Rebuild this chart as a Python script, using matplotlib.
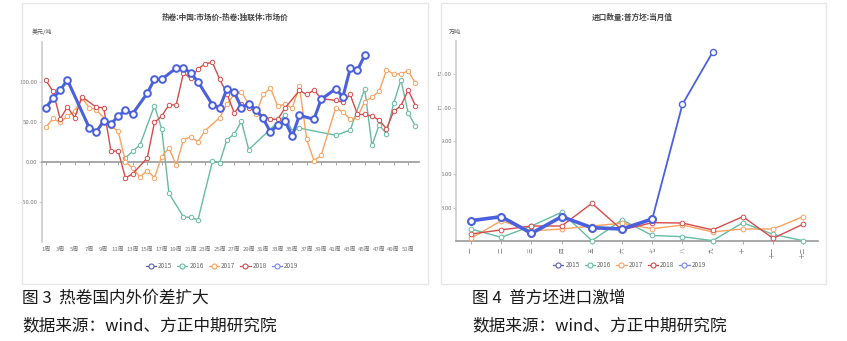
import numpy as np
import matplotlib.pyplot as plt
from matplotlib.lines import Line2D
from matplotlib.patches import Rectangle

plt.rcParams['font.family'] = ['Noto Sans CJK SC', 'DejaVu Sans']

N = None
# ---------------- Left chart data (weekly spread, USD/t) ----------------
weeks = list(range(1, 53))
week_labels = [f"{w}周" for w in range(1, 52, 2)]
spread_2016 = [N, N, N, N, N, N, N, N, N, N, N, 5, 13, 21, N, 70, 41, -39.5, N, -69,
               -69.5, -73, N, 0.5, -1, 27.5, 34.5, 50.5, 15, N, N, N, N, 58, 38, 42, N, N, N, N,
               33, N, 39.5, N, 91, 20.5, 46, 35, 73.5, 102, 61, 44.5]
spread_2017 = [43, 54, 49, 57, 63, 80, 67.5, 65, N, 44.5, 38, 0, -8, -19, -11, -20, 6.5, 17, -4.5, 27.5,
               31, 25, 39, N, 55, 72, 84, 87, 72, 60, 84, 92, 69.5, 72, 67, 94, 28, 1.5, 8, N,
               67.5, 62, 53, 56, 75, 81, 88, 114.5, 109.5, 110, 113.5, 98]
spread_2018 = [102, 88, 53.5, 68.5, 55, 81, N, 68, 67.5, 13, 13.5, -20.5, -15, N, 4.5, 49, 57, 71, 71, 111,
               104, 116, 122.5, 124, 103, 85, 61, 72, 67.5, 63, 57, 53, 53, 67, N, 89, 84, 89.5, 79, N,
               76.5, 74.5, 84, 59, 59, 57, 52, 41, 63, 70, 89.5, 70]
spread_2019 = [67.5, 79, 89.5, 102, N, N, 42.5, 37.5, 51, 47, 57, 64, 60, N, 85.5, 103, 103, N, 117, 117,
               111, 100, N, 71, 67.5, 91, 87, 67.5, 72.5, 65, 54, 37, 46, 51, 32, 58, N, 53, 78, N,
               91, 81, 116.5, 114.5, 133, N, N, N, N, N, N, N]

# ---------------- Right chart data (monthly imports, 10k t) ----------------
months = list(range(1, 13))
month_labels = ["一", "二", "三", "四", "五", "六", "七", "八", "九", "十", "十一", "十二"]
imp_2016 = [1.08, 0.33, 1.35, 2.58, 0.03, 1.9, 0.5, 0.39, 0.03, 1.65, 0.6, 0.03]
imp_2017 = [0.24, 1.83, 0.9, 1.08, 1.35, 1.6, 1.1, 1.44, 0.82, 1.08, 1.08, 2.19]
imp_2018 = [0.63, 1.0, 1.35, 1.35, 3.39, 1.0, 1.65, 1.62, 1.0, 2.19, 0.24, 1.52]
imp_2019 = [1.83, 2.19, 0.69, 2.19, 1.2, 1.08, 1.98, 12.3, 17.0]

years = ["2015", "2016", "2017", "2018", "2019"]
c2015 = "#5a5fb0"
c2016 = "#67bba1"
c2017 = "#f9a15e"
c2018 = "#d44b4b"
c2019 = "#4a60dc"
leg_colors = [c2015, c2016, c2017, c2018, "#7a86ea"]

W, H = 847, 341
fig = plt.figure(figsize=(W / 100, H / 100), dpi=100)
fig.patch.set_facecolor("white")

def fx(px):
    return px / W

def fy(py):
    return 1 - py / H

# panel frames
for x0, x1 in [(22, 428), (441, 826)]:
    fig.patches.append(Rectangle((fx(x0), fy(284)), fx(x1 - x0), (284 - 3) / H,
                                 transform=fig.transFigure, fill=False,
                                 edgecolor="#e6e6e6", linewidth=1.0))

def series(ax, xs, ys, color, lw, ms, mew, z):
    xs = np.array(xs, dtype=float)
    ys = np.array([np.nan if v is None else v for v in ys], dtype=float)
    m = ~np.isnan(ys)
    ax.plot(xs[m], ys[m], color=color, lw=lw, marker="o", ms=ms,
            mfc="white", mec=color, mew=mew, zorder=z, clip_on=False)

tick_col = "#777777"

# ---------------- Left axes ----------------
axL = fig.add_axes([fx(41.7), fy(241.7), fx(419 - 41.7), 200 / H])
axL.set_xlim(1 - 4 / 7.25, 1 + (419 - 45.7) / 7.25)
axL.set_ylim(-100, 150)
for s in ["top", "right"]:
    axL.spines[s].set_visible(False)
axL.spines["left"].set_color("#cccccc")
axL.spines["left"].set_linewidth(1.2)
axL.spines["bottom"].set_position(("data", 0))
axL.spines["bottom"].set_color("#999999")
axL.spines["bottom"].set_linewidth(1.2)
axL.set_xticks(range(1, 52, 2))
axL.set_xticklabels([])
axL.tick_params(axis="x", length=2.5, width=0.6, color="#999999")
axL.set_yticks([-50, 0, 50, 100])
axL.set_yticklabels([f"{v:.2f}" for v in [-50, 0, 50, 100]], fontsize=4.3, color=tick_col)
axL.tick_params(axis="y", length=2, width=0.6, color="#bbbbbb", pad=1)
secL = axL.secondary_xaxis("bottom")
secL.set_xticks(range(1, 52, 2))
secL.set_xticklabels(week_labels, fontsize=4.3, color=tick_col)
secL.tick_params(length=0, pad=4)
secL.spines["bottom"].set_visible(False)

series(axL, weeks, spread_2016, c2016, 1.0, 3.2, 0.7, 3)
series(axL, weeks, spread_2017, c2017, 1.0, 3.2, 0.7, 3)
series(axL, weeks, spread_2018, c2018, 1.0, 3.2, 0.7, 4)
series(axL, weeks, spread_2019, c2019, 2.2, 4.8, 1.4, 5)

fig.text(fx(225), fy(17), "热卷:中国:市场价-热卷:独联体:市场价", fontsize=5.5,
         color="#444444", ha="center", va="center", fontweight="bold")
fig.text(fx(42), fy(32), "美元/吨", fontsize=4.3, color="#555555", ha="center", va="center")

# ---------------- Right axes ----------------
axR = fig.add_axes([fx(456), fy(241), fx(818.3 - 456), 200 / H])
axR.set_xlim(0.5, 12.5)
axR.set_ylim(0, 18)
for s in ["top", "right"]:
    axR.spines[s].set_visible(False)
axR.spines["left"].set_color("#cccccc")
axR.spines["left"].set_linewidth(1.2)
axR.spines["bottom"].set_color("#999999")
axR.spines["bottom"].set_linewidth(1.2)
axR.set_xticks(months)
axR.set_xticklabels(month_labels, fontsize=4.0, color=tick_col, rotation=90)
axR.tick_params(axis="x", length=2.5, width=0.6, color="#999999", pad=2)
axR.set_yticks([3, 6, 9, 12, 15])
axR.set_yticklabels([f"{v:.2f}" for v in [3, 6, 9, 12, 15]], fontsize=4.3, color=tick_col)
axR.tick_params(axis="y", length=2, width=0.6, color="#bbbbbb", pad=1)

series(axR, months, imp_2016, c2016, 1.0, 3.4, 0.7, 3)
series(axR, months, imp_2017, c2017, 1.0, 3.4, 0.7, 3)
series(axR, months, imp_2018, c2018, 1.0, 3.4, 0.7, 4)
series(axR, months[6:9], imp_2019[6:9], c2019, 1.3, 4.4, 1.0, 5)
series(axR, months[:7], imp_2019[:7], c2019, 2.6, 5.0, 1.5, 6)

fig.text(fx(632), fy(17), "进口数量:普方坯:当月值", fontsize=5.5,
         color="#444444", ha="center", va="center", fontweight="bold")
fig.text(fx(455), fy(32), "万吨", fontsize=4.3, color="#555555", ha="center", va="center")

# ---------------- Legends ----------------
def make_handles():
    return [Line2D([0], [0], color=c, lw=0.9, marker="o", ms=3.6, mfc="white",
                   mec=c, mew=0.8) for c in leg_colors]

for cx, cy in [(222, 266), (629.5, 265)]:
    fig.legend(make_handles(), years, loc="center", bbox_to_anchor=(fx(cx), fy(cy)),
               ncol=5, frameon=False, fontsize=4.6, handlelength=1.6,
               columnspacing=0.8, handletextpad=0.3, labelcolor="#666666")

# ---------------- Captions ----------------
cap_kw = dict(fontsize=12, color="#1a1a1a", ha="left", va="center")
fig.text(fx(22), fy(298), "图 3  热卷国内外价差扩大", **cap_kw)
fig.text(fx(22), fy(326), "数据来源：wind、方正中期研究院", **cap_kw)
fig.text(fx(472), fy(298), "图 4  普方坯进口激增", **cap_kw)
fig.text(fx(472), fy(326), "数据来源：wind、方正中期研究院", **cap_kw)

fig.savefig("out.png", dpi=100, facecolor="white")
